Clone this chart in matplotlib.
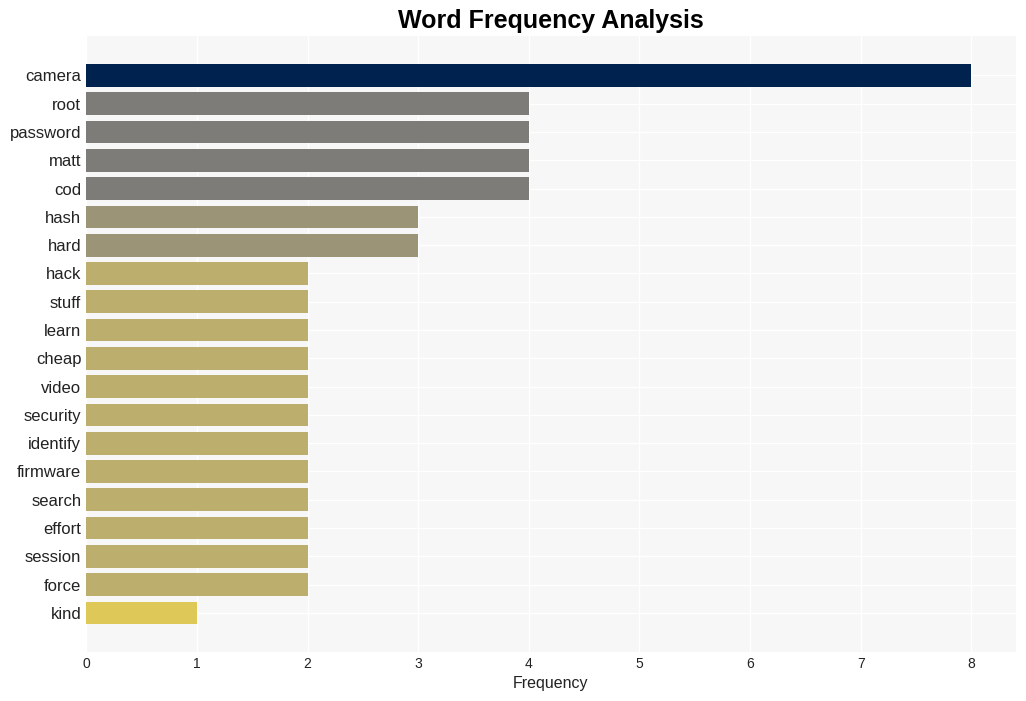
import matplotlib.pyplot as plt
import numpy as np

# Word counts
words = ["camera", "root", "password", "matt", "cod", "hash", "hard", "hack",
         "stuff", "learn", "cheap", "video", "security", "identify", "firmware",
         "search", "effort", "session", "force", "kind"]
counts = [8, 4, 4, 4, 4, 3, 3, 2, 2, 2, 2, 2, 2, 2, 2, 2, 2, 2, 2, 1]

plt.rcParams['font.family'] = ['Liberation Sans', 'DejaVu Sans']

fig, ax = plt.subplots(figsize=(10.26, 7.01), dpi=100)
fig.subplots_adjust(left=0.084, right=0.99, top=0.948, bottom=0.07)

values = np.array(counts)
colors = plt.cm.cividis(1 - values / values.max())
y = np.arange(len(words))

ax.barh(y, values, height=0.8, color=colors, zorder=3)
ax.set_yticks(y)
ax.set_yticklabels(words)
ax.invert_yaxis()
ax.set_ylim(len(words) - 1 + 1.38, -1.38)
ax.set_xlim(0, values.max() * 1.05)

ax.set_facecolor('#f7f7f7')
ax.grid(True, color='white', linewidth=1, zorder=0)
for s in ax.spines.values():
    s.set_visible(False)
ax.tick_params(axis='both', length=0, colors='#222222')
ax.tick_params(axis='y', labelsize=12, pad=3.5)
ax.tick_params(axis='x', labelsize=10, pad=4)

ax.set_xlabel("Frequency", fontsize=11.5, color='#222222', labelpad=3)
ax.set_title("Word Frequency Analysis", fontsize=18, fontweight='bold', pad=6)

fig.savefig("out.png", dpi=100)
